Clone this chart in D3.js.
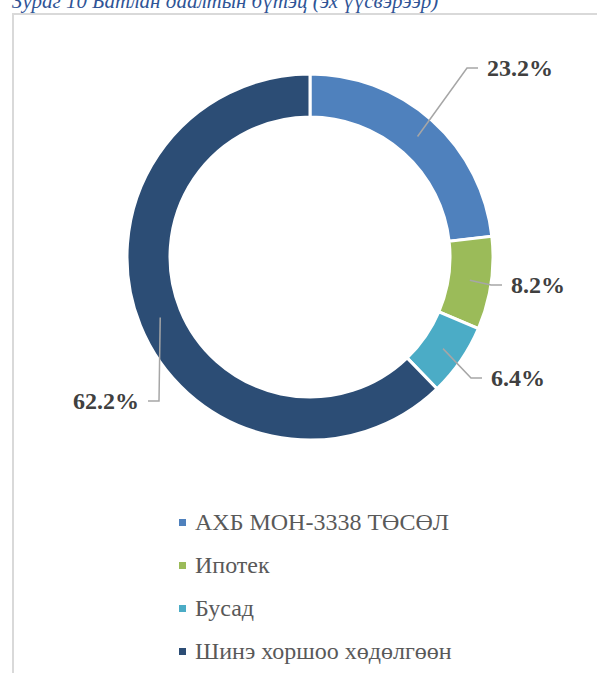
<!DOCTYPE html>
<html>
<head>
<meta charset="utf-8">
<script src="https://cdn.jsdelivr.net/npm/d3@7"></script>
<style>
  body { margin: 0; background: #fff; }
  svg { display: block; }
</style>
</head>
<body>
<div id="chart"></div>
<script>
// data
const categories = ["АХБ МОН-3338 ТӨСӨЛ", "Ипотек", "Бусад", "Шинэ хоршоо хөдөлгөөн"];
const shares = [23.2, 8.2, 6.4, 62.2];
const colors = ["#4F81BD", "#9BBB59", "#4BACC6", "#2C4D75"];
const titleText = "Зураг 10 Батлан даалтын бүтэц (эх үүсвэрээр)";

const font = "Liberation Serif";

const width = 597,
  height = 673,
  cx = 310,
  cy = 257,
  outerR = 183,
  innerR = 140;

// where each label's leader line ends, relative to the centre
const labelEnds = [[168, -189], [192, 28], [172, 121], [-162, 144]];

const svg = d3.select("#chart")
  .append("svg")
  .attr("width", width)
  .attr("height", height);

// title, clipped at the top like the source
svg.append("text")
  .attr("x", 12)
  .attr("y", 8)
  .attr("font-family", font)
  .attr("font-size", 21)
  .attr("font-style", "italic")
  .attr("fill", "#2F5496")
  .text(titleText);

// chart border
svg.append("rect")
  .attr("x", 13)
  .attr("y", 14)
  .attr("width", 700)
  .attr("height", 700)
  .attr("fill", "none")
  .attr("stroke", "#d9d9d9")
  .attr("stroke-width", 2);

const data = categories.map((c, i) => ({ name: c, value: shares[i], color: colors[i] }));

const pie = d3.pie()
  .value(d => d.value)
  .sort(null);

const arc = d3.arc()
  .innerRadius(innerR)
  .outerRadius(outerR);

const g = svg.append("g")
  .attr("transform", `translate(${cx},${cy})`);

const arcs = pie(data);

g.selectAll("path")
  .data(arcs)
  .join("path")
  .attr("d", arc)
  .attr("fill", d => d.data.color)
  .attr("stroke", "#fff")
  .attr("stroke-width", 3);

// leader lines + labels
arcs.forEach((d, i) => {
  const c = arc.centroid(d);
  const end = labelEnds[i];
  const dir = end[0] > c[0] ? 1 : -1;
  const elbow = [end[0] - 11 * dir, end[1]];

  g.append("polyline")
    .attr("points", [c, elbow, end].map(p => p.join(",")).join(" "))
    .attr("fill", "none")
    .attr("stroke", "#a6a6a6")
    .attr("stroke-width", 1.5);

  g.append("text")
    .attr("x", end[0] + 9 * dir)
    .attr("y", end[1])
    .attr("dy", "0.35em")
    .attr("text-anchor", dir > 0 ? "start" : "end")
    .attr("font-family", font)
    .attr("font-size", 24)
    .attr("font-weight", "bold")
    .attr("fill", "#404040")
    .text(d.data.value.toFixed(1) + "%");
});

// legend
const legendY = d3.scalePoint()
  .domain(categories)
  .range([522, 651]);

const legend = svg.append("g")
  .selectAll("g")
  .data(data)
  .join("g")
  .attr("transform", d => `translate(179, ${legendY(d.name)})`);

legend.append("rect")
  .attr("x", 0)
  .attr("y", -3)
  .attr("width", 7)
  .attr("height", 7)
  .attr("fill", d => d.color);

legend.append("text")
  .attr("x", 16)
  .attr("y", 0)
  .attr("dy", "0.35em")
  .attr("font-family", font)
  .attr("font-size", 24)
  .attr("fill", "#595959")
  .text(d => d.name);
</script>
</body>
</html>
